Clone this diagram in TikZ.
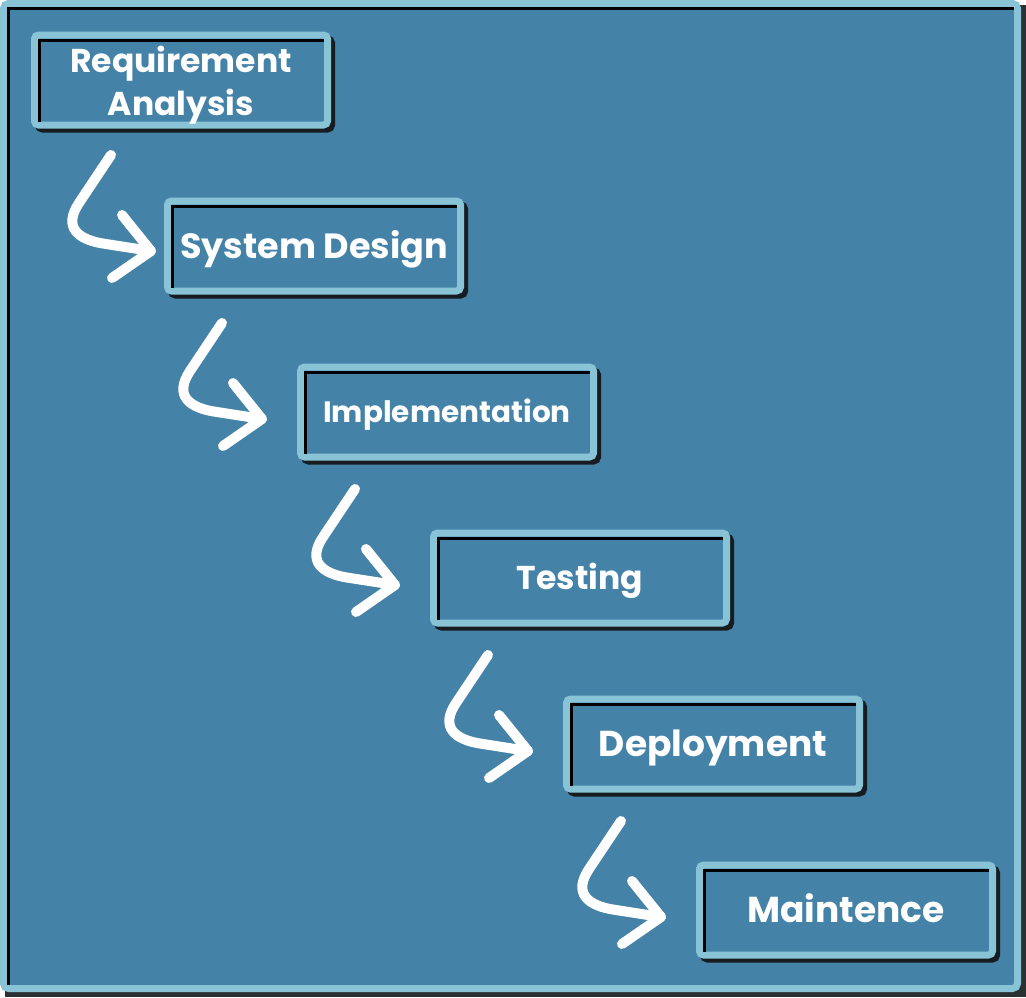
\documentclass[tikz,border=0pt]{standalone}
\usepackage{fontspec}
\setmainfont{Poppins}
\definecolor{bgblue}{RGB}{68,130,168}
\definecolor{lightb}{RGB}{136,196,214}
\definecolor{shade}{RGB}{22,28,32}
\begin{document}
\begin{tikzpicture}[x=1pt,y=-1pt,
  stage/.style={draw=lightb, line width=7pt, fill=bgblue, rounded corners=4pt,
    minimum width=293pt, minimum height=90pt, inner sep=0pt, outer sep=0pt, text=white,
    align=center, text depth=0pt,
    preaction={draw=shade, fill=shade, line width=7pt, transform canvas={xshift=4pt,yshift=-4pt}}},
  fs/.style 2 args={font=\bfseries\fontsize{#1}{43}\selectfont, text height=#2},
  inset/.style={draw=black, line width=3pt},
  flow/.style={draw=white, line width=10pt, line cap=round, line join=round},
  wave/.pic={
    \draw[flow] (0,0) -- (-32,48) .. controls (-48,72) and (-34,85) .. (-5,89) -- (40,96);
    \draw[flow] (11,60) -- (40,96) -- (1,123);
  }]
\useasboundingbox (0,0) rectangle (1026,997);
% frame
\fill[shade!80!gray] (5,5) rectangle (1026,997);
\draw[lightb, line width=7pt, fill=bgblue, rounded corners=5pt] (3.5,3.5) rectangle (1017.5,988.5);
\draw[inset] (8.5,985) -- (8.5,8.5) -- (1014,8.5);
% stages
\node[stage, fs={33}{70pt}] (s1) at (181,80) {Requirement\\Analysis};
\node[stage, fs={35}{24.4pt}] (s2) at (314,246) {System Design};
\node[stage, fs={29.5}{20.6pt}] (s3) at (447,412) {Implementation};
\node[stage, fs={33}{23pt}] (s4) at (580,578) {Testing};
\node[stage, fs={36}{25.1pt}] (s5) at (713,744) {Deployment};
\node[stage, fs={36}{25.1pt}] (s6) at (846,910) {Maintence};
\foreach \s in {s1,s2,s3,s4,s5,s6}{
  \draw[inset] ([xshift=5pt,yshift=3.5pt]\s.south west) -- ([xshift=5pt,yshift=-5pt]\s.north west) -- ([xshift=-3.5pt,yshift=-5pt]\s.north east);
}
% connectors
\coordinate (a1) at (111,155);
\coordinate (a2) at (222,323);
\coordinate (a3) at (355,489);
\coordinate (a4) at (488,655);
\coordinate (a5) at (621,821);
\foreach \a in {a1,a2,a3,a4,a5}{ \pic at (\a) {wave}; }
\end{tikzpicture}
\end{document}
